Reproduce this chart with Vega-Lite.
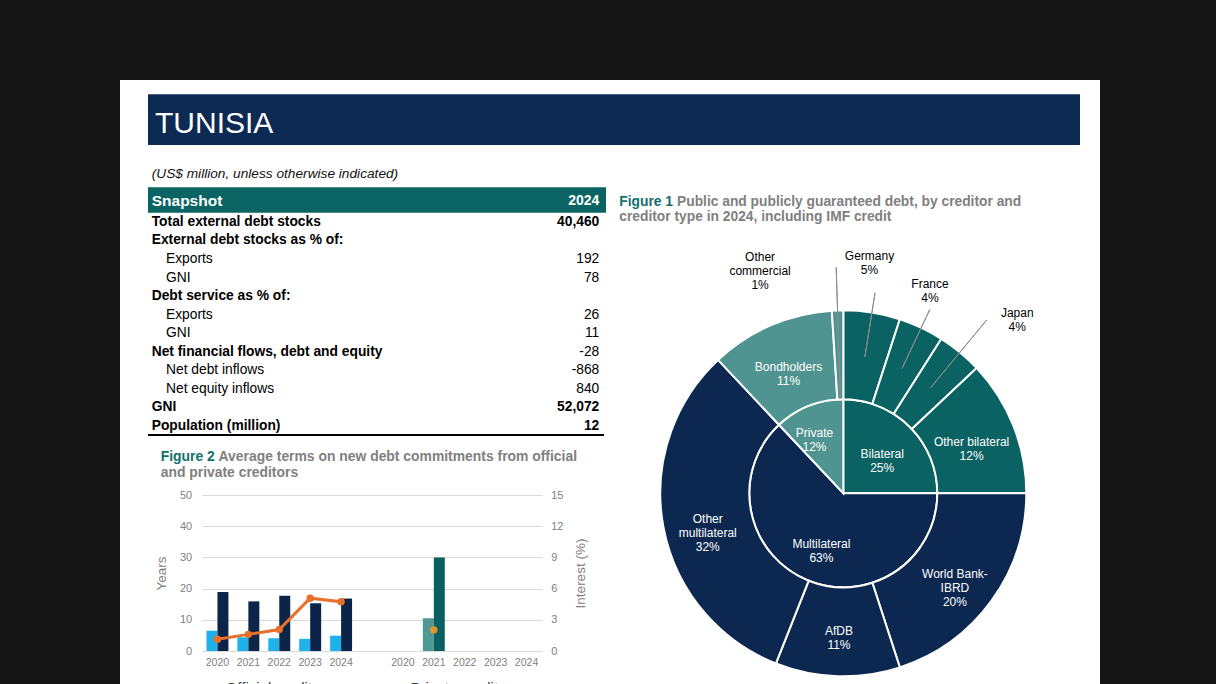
{
  "$schema": "https://vega.github.io/schema/vega-lite/v6.json",
  "width": 980,
  "height": 604,
  "autosize": {"type": "none"},
  "padding": {"left": 120, "top": 80, "right": 116, "bottom": 0},
  "background": "#151515",
  "config": {
    "view": {"fill": "#ffffff", "stroke": null},
    "font": "Liberation Sans",
    "text": {"font": "Liberation Sans"},
    "axis": {"labelFont": "Liberation Sans", "titleFont": "Liberation Sans", "labelColor": "#808080", "titleColor": "#808080", "domain": false, "ticks": false, "gridColor": "#d9d9d9", "gridWidth": 1},
    "locale": {"number": {"decimal": ".", "thousands": ",", "grouping": [3], "currency": ["$", ""], "minus": "-"}}
  },
  "datasets": {
    "table": [
      {"row": 1, "label": "Total external debt stocks", "level": 0, "value": 40460},
      {"row": 2, "label": "External debt stocks as % of:", "level": 0, "value": null},
      {"row": 3, "label": "Exports", "level": 1, "value": 192},
      {"row": 4, "label": "GNI", "level": 1, "value": 78},
      {"row": 5, "label": "Debt service as % of:", "level": 0, "value": null},
      {"row": 6, "label": "Exports", "level": 1, "value": 26},
      {"row": 7, "label": "GNI", "level": 1, "value": 11},
      {"row": 8, "label": "Net financial flows, debt and equity", "level": 0, "value": -28},
      {"row": 9, "label": "Net debt inflows", "level": 1, "value": -868},
      {"row": 10, "label": "Net equity inflows", "level": 1, "value": 840},
      {"row": 11, "label": "GNI", "level": 0, "value": 52072},
      {"row": 12, "label": "Population (million)", "level": 0, "value": 12}
    ],
    "terms": [
      {"cat": "O-2020", "creditor": "Official creditors", "term": "Grace period", "series": "Grace period (official)", "years": 6.5},
      {"cat": "O-2020", "creditor": "Official creditors", "term": "Maturity", "series": "Maturity (official)", "years": 18.9},
      {"cat": "O-2021", "creditor": "Official creditors", "term": "Grace period", "series": "Grace period (official)", "years": 4.4},
      {"cat": "O-2021", "creditor": "Official creditors", "term": "Maturity", "series": "Maturity (official)", "years": 15.9},
      {"cat": "O-2022", "creditor": "Official creditors", "term": "Grace period", "series": "Grace period (official)", "years": 4.1},
      {"cat": "O-2022", "creditor": "Official creditors", "term": "Maturity", "series": "Maturity (official)", "years": 17.7},
      {"cat": "O-2023", "creditor": "Official creditors", "term": "Grace period", "series": "Grace period (official)", "years": 3.9},
      {"cat": "O-2023", "creditor": "Official creditors", "term": "Maturity", "series": "Maturity (official)", "years": 15.3},
      {"cat": "O-2024", "creditor": "Official creditors", "term": "Grace period", "series": "Grace period (official)", "years": 4.9},
      {"cat": "O-2024", "creditor": "Official creditors", "term": "Maturity", "series": "Maturity (official)", "years": 16.8},
      {"cat": "P-2021", "creditor": "Private creditors", "term": "Grace period", "series": "Grace period (private)", "years": 10.5},
      {"cat": "P-2021", "creditor": "Private creditors", "term": "Maturity", "series": "Maturity (private)", "years": 30.0}
    ],
    "interest": [
      {"cat": "O-2020", "creditor": "Official creditors", "rate": 1.13},
      {"cat": "O-2021", "creditor": "Official creditors", "rate": 1.6},
      {"cat": "O-2022", "creditor": "Official creditors", "rate": 2.06},
      {"cat": "O-2023", "creditor": "Official creditors", "rate": 5.08},
      {"cat": "O-2024", "creditor": "Official creditors", "rate": 4.73},
      {"cat": "P-2021", "creditor": "Private creditors", "rate": 2.03}
    ],
    "creditorType": [
      {"type": "Bilateral", "share": 25, "seq": 1, "label": "Bilateral\n25%"},
      {"type": "Multilateral", "share": 63, "seq": 2, "label": "Multilateral\n63%"},
      {"type": "Private", "share": 12, "seq": 3, "label": "Private\n12%"}
    ],
    "creditor": [
      {"name": "Germany", "type": "Bilateral", "share": 5, "seq": 1, "label": "Germany\n5%"},
      {"name": "France", "type": "Bilateral", "share": 4, "seq": 2, "label": "France\n4%"},
      {"name": "Japan", "type": "Bilateral", "share": 4, "seq": 3, "label": "Japan\n4%"},
      {"name": "Other bilateral", "type": "Bilateral", "share": 12, "seq": 4, "label": "Other bilateral\n12%"},
      {"name": "World Bank-IBRD", "type": "Multilateral", "share": 20, "seq": 5, "label": "World Bank-\nIBRD\n20%"},
      {"name": "AfDB", "type": "Multilateral", "share": 11, "seq": 6, "label": "AfDB\n11%"},
      {"name": "Other multilateral", "type": "Multilateral", "share": 32, "seq": 7, "label": "Other\nmultilateral\n32%"},
      {"name": "Bondholders", "type": "Private", "share": 11, "seq": 8, "label": "Bondholders\n11%"},
      {"name": "Other commercial", "type": "Private", "share": 1, "seq": 9, "label": "Other\ncommercial\n1%"}
    ]
  },
  "layer": [
    {
      "data": {"values": [{"country": "TUNISIA"}]},
      "mark": {"type": "rect", "color": "#0c2a54"},
      "encoding": {
        "x": {"datum": 0, "type": "quantitative", "scale": {"domain": [0, 1], "range": [28, 960], "nice": false, "zero": false}, "axis": null},
        "x2": {"datum": 1},
        "y": {"datum": 0, "type": "quantitative", "scale": {"domain": [0, 1], "range": [14.3, 65], "nice": false, "zero": false}, "axis": null},
        "y2": {"datum": 1}
      }
    },
    {
      "data": {"values": [{"country": "TUNISIA"}]},
      "mark": {"type": "text", "align": "left", "baseline": "alphabetic", "fontSize": 30, "color": "#ffffff"},
      "encoding": {
        "text": {"field": "country"},
        "x": {"datum": 0, "type": "quantitative", "scale": {"domain": [0, 1], "range": [35, 36], "nice": false, "zero": false}, "axis": null},
        "y": {"datum": 0, "type": "quantitative", "scale": {"domain": [0, 1], "range": [53.3, 54.3], "nice": false, "zero": false}, "axis": null}
      }
    },
    {
      "data": {"values": [{"note": "(US$ million, unless otherwise indicated)"}]},
      "mark": {"type": "text", "align": "left", "baseline": "middle", "fontSize": 13.7, "fontStyle": "italic", "color": "#111111"},
      "encoding": {
        "text": {"field": "note"},
        "x": {"datum": 0, "type": "quantitative", "scale": {"domain": [0, 1], "range": [31.7, 32.7], "nice": false, "zero": false}, "axis": null},
        "y": {"datum": 0, "type": "quantitative", "scale": {"domain": [0, 1], "range": [94, 95], "nice": false, "zero": false}, "axis": null}
      }
    },
    {
      "data": {"values": [{"header": "Snapshot", "year": "2024"}]},
      "mark": {"type": "rect", "color": "#0a6464"},
      "encoding": {
        "x": {"datum": 0, "type": "quantitative", "scale": {"domain": [0, 1], "range": [28, 486], "nice": false, "zero": false}, "axis": null},
        "x2": {"datum": 1},
        "y": {"datum": 0, "type": "quantitative", "scale": {"domain": [0, 1], "range": [107.3, 132.7], "nice": false, "zero": false}, "axis": null},
        "y2": {"datum": 1}
      }
    },
    {
      "data": {"values": [{"header": "Snapshot", "year": "2024"}]},
      "mark": {"type": "text", "align": "left", "baseline": "middle", "fontSize": 15.5, "fontWeight": "bold", "color": "#ffffff"},
      "encoding": {
        "text": {"field": "header"},
        "x": {"datum": 0, "type": "quantitative", "scale": {"domain": [0, 1], "range": [31.7, 32.7], "nice": false, "zero": false}, "axis": null},
        "y": {"datum": 0, "type": "quantitative", "scale": {"domain": [0, 1], "range": [120.5, 121.5], "nice": false, "zero": false}, "axis": null}
      }
    },
    {
      "data": {"values": [{"header": "Snapshot", "year": "2024"}]},
      "mark": {"type": "text", "align": "right", "baseline": "middle", "fontSize": 14, "fontWeight": "bold", "color": "#ffffff"},
      "encoding": {
        "text": {"field": "year"},
        "x": {"datum": 0, "type": "quantitative", "scale": {"domain": [0, 1], "range": [479.3, 480.3], "nice": false, "zero": false}, "axis": null},
        "y": {"datum": 0, "type": "quantitative", "scale": {"domain": [0, 1], "range": [120.5, 121.5], "nice": false, "zero": false}, "axis": null}
      }
    },
    {
      "data": {"name": "table"},
      "transform": [{"filter": "datum.level === 0"}],
      "mark": {"type": "text", "align": "left", "baseline": "middle", "fontSize": 13.8, "fontWeight": "bold", "color": "#000000"},
      "encoding": {
        "text": {"field": "label"},
        "x": {"field": "level", "type": "quantitative", "scale": {"domain": [0, 1], "range": [31.7, 46], "nice": false, "zero": false}, "axis": null},
        "y": {"field": "row", "type": "ordinal", "scale": {"type": "band", "domain": [1, 2, 3, 4, 5, 6, 7, 8, 9, 10, 11, 12], "range": [132.7, 355], "paddingInner": 0, "paddingOuter": 0}, "axis": null}
      }
    },
    {
      "data": {"name": "table"},
      "transform": [{"filter": "datum.level === 1"}],
      "mark": {"type": "text", "align": "left", "baseline": "middle", "fontSize": 13.8, "color": "#000000"},
      "encoding": {
        "text": {"field": "label"},
        "x": {"field": "level", "type": "quantitative", "scale": {"domain": [0, 1], "range": [31.7, 46], "nice": false, "zero": false}, "axis": null},
        "y": {"field": "row", "type": "ordinal", "scale": {"type": "band", "domain": [1, 2, 3, 4, 5, 6, 7, 8, 9, 10, 11, 12], "range": [132.7, 355], "paddingInner": 0, "paddingOuter": 0}, "axis": null}
      }
    },
    {
      "data": {"name": "table"},
      "transform": [{"filter": "datum.value != null && (datum.row === 1 || datum.row >= 11)"}],
      "mark": {"type": "text", "align": "right", "baseline": "middle", "fontSize": 13.8, "fontWeight": "bold", "color": "#000000"},
      "encoding": {
        "text": {"field": "value", "type": "quantitative", "format": ","},
        "x": {"datum": 0, "type": "quantitative", "scale": {"domain": [0, 1], "range": [479.3, 480.3], "nice": false, "zero": false}, "axis": null},
        "y": {"field": "row", "type": "ordinal", "scale": {"type": "band", "domain": [1, 2, 3, 4, 5, 6, 7, 8, 9, 10, 11, 12], "range": [132.7, 355], "paddingInner": 0, "paddingOuter": 0}, "axis": null}
      }
    },
    {
      "data": {"name": "table"},
      "transform": [{"filter": "datum.value != null && datum.row > 1 && datum.row < 11"}],
      "mark": {"type": "text", "align": "right", "baseline": "middle", "fontSize": 13.8, "color": "#000000"},
      "encoding": {
        "text": {"field": "value", "type": "quantitative", "format": ","},
        "x": {"datum": 0, "type": "quantitative", "scale": {"domain": [0, 1], "range": [479.3, 480.3], "nice": false, "zero": false}, "axis": null},
        "y": {"field": "row", "type": "ordinal", "scale": {"type": "band", "domain": [1, 2, 3, 4, 5, 6, 7, 8, 9, 10, 11, 12], "range": [132.7, 355], "paddingInner": 0, "paddingOuter": 0}, "axis": null}
      }
    },
    {
      "data": {"name": "table"},
      "transform": [{"filter": "datum.row === 12"}],
      "mark": {"type": "rule", "color": "#000000", "strokeWidth": 2},
      "encoding": {
        "x": {"datum": 0, "type": "quantitative", "scale": {"domain": [0, 1], "range": [28, 484], "nice": false, "zero": false}, "axis": null},
        "x2": {"datum": 1},
        "y": {"field": "row", "type": "ordinal", "bandPosition": 1, "scale": {"type": "band", "domain": [1, 2, 3, 4, 5, 6, 7, 8, 9, 10, 11, 12], "range": [132.7, 355], "paddingInner": 0, "paddingOuter": 0}, "axis": null}
      }
    },
    {
      "data": {"values": [{"t": "Figure 1"}]},
      "mark": {"type": "text", "align": "left", "baseline": "alphabetic", "fontSize": 13.8, "fontWeight": "bold", "color": "#13706c"},
      "encoding": {
        "text": {"field": "t"},
        "x": {"datum": 0, "type": "quantitative", "scale": {"domain": [0, 1], "range": [499.3, 500.3], "nice": false, "zero": false}, "axis": null},
        "y": {"datum": 0, "type": "quantitative", "scale": {"domain": [0, 1], "range": [125.6, 126.6], "nice": false, "zero": false}, "axis": null}
      }
    },
    {
      "data": {"values": [{"t": "Public and publicly guaranteed debt, by creditor and"}]},
      "mark": {"type": "text", "align": "left", "baseline": "alphabetic", "fontSize": 13.8, "fontWeight": "bold", "color": "#808080"},
      "encoding": {
        "text": {"field": "t"},
        "x": {"datum": 0, "type": "quantitative", "scale": {"domain": [0, 1], "range": [557, 558], "nice": false, "zero": false}, "axis": null},
        "y": {"datum": 0, "type": "quantitative", "scale": {"domain": [0, 1], "range": [125.6, 126.6], "nice": false, "zero": false}, "axis": null}
      }
    },
    {
      "data": {"values": [{"t": "creditor type in 2024, including IMF credit"}]},
      "mark": {"type": "text", "align": "left", "baseline": "alphabetic", "fontSize": 13.8, "fontWeight": "bold", "color": "#808080"},
      "encoding": {
        "text": {"field": "t"},
        "x": {"datum": 0, "type": "quantitative", "scale": {"domain": [0, 1], "range": [499.3, 500.3], "nice": false, "zero": false}, "axis": null},
        "y": {"datum": 0, "type": "quantitative", "scale": {"domain": [0, 1], "range": [141.1, 142.1], "nice": false, "zero": false}, "axis": null}
      }
    },
    {
      "data": {"values": [{"t": "Figure 2"}]},
      "mark": {"type": "text", "align": "left", "baseline": "alphabetic", "fontSize": 13.9, "fontWeight": "bold", "color": "#13706c"},
      "encoding": {
        "text": {"field": "t"},
        "x": {"datum": 0, "type": "quantitative", "scale": {"domain": [0, 1], "range": [40.7, 41.7], "nice": false, "zero": false}, "axis": null},
        "y": {"datum": 0, "type": "quantitative", "scale": {"domain": [0, 1], "range": [380.6, 381.6], "nice": false, "zero": false}, "axis": null}
      }
    },
    {
      "data": {"values": [{"t": "Average terms on new debt commitments from official"}]},
      "mark": {"type": "text", "align": "left", "baseline": "alphabetic", "fontSize": 13.9, "fontWeight": "bold", "color": "#808080"},
      "encoding": {
        "text": {"field": "t"},
        "x": {"datum": 0, "type": "quantitative", "scale": {"domain": [0, 1], "range": [98.6, 99.6], "nice": false, "zero": false}, "axis": null},
        "y": {"datum": 0, "type": "quantitative", "scale": {"domain": [0, 1], "range": [380.6, 381.6], "nice": false, "zero": false}, "axis": null}
      }
    },
    {
      "data": {"values": [{"t": "and private creditors"}]},
      "mark": {"type": "text", "align": "left", "baseline": "alphabetic", "fontSize": 13.9, "fontWeight": "bold", "color": "#808080"},
      "encoding": {
        "text": {"field": "t"},
        "x": {"datum": 0, "type": "quantitative", "scale": {"domain": [0, 1], "range": [40.7, 41.7], "nice": false, "zero": false}, "axis": null},
        "y": {"datum": 0, "type": "quantitative", "scale": {"domain": [0, 1], "range": [396.6, 397.6], "nice": false, "zero": false}, "axis": null}
      }
    },
    {
      "data": {"name": "terms"},
      "mark": {"type": "bar"},
      "encoding": {
        "x": {"field": "cat", "type": "nominal", "scale": {"type": "band", "domain": ["O-2020", "O-2021", "O-2022", "O-2023", "O-2024", "gap", "P-2020", "P-2021", "P-2022", "P-2023", "P-2024"], "range": [82, 422], "paddingInner": 0.29, "paddingOuter": 0.145},
          "axis": {"orient": "bottom", "offset": -33, "labelExpr": "datum.value == 'gap' ? '' : slice(datum.value, 2)", "labelFontSize": 10.5, "labelPadding": 6, "labelAngle": 0, "title": null, "grid": false}},
        "xOffset": {"field": "term", "type": "nominal", "scale": {"domain": ["Grace period", "Maturity"], "paddingInner": 0, "paddingOuter": 0}},
        "y": {"field": "years", "type": "quantitative", "scale": {"domain": [0, 50], "range": [571, 415], "nice": false, "zero": false},
          "axis": {"orient": "left", "offset": -82, "values": [0, 10, 20, 30, 40, 50], "grid": true, "labelFontSize": 11, "labelPadding": 10.3, "title": "Years", "titleFontSize": 13.5, "titleFontWeight": "normal", "titlePadding": 11}},
        "color": {"field": "series", "type": "nominal", "scale": {"domain": ["Grace period (official)", "Maturity (official)", "Grace period (private)", "Maturity (private)"], "range": ["#1fb2ea", "#0b2448", "#4f9894", "#0a6060"]}, "legend": null}
      }
    },
    {
      "data": {"name": "interest"},
      "mark": {"type": "line", "strokeWidth": 3, "point": {"filled": true, "size": 55}},
      "encoding": {
        "x": {"field": "cat", "type": "nominal", "bandPosition": 0.5, "scale": {"type": "band", "domain": ["O-2020", "O-2021", "O-2022", "O-2023", "O-2024", "gap", "P-2020", "P-2021", "P-2022", "P-2023", "P-2024"], "range": [82, 422], "paddingInner": 0.29, "paddingOuter": 0.145}, "axis": null},
        "y": {"field": "rate", "type": "quantitative", "scale": {"domain": [0, 15], "range": [571, 415], "nice": false, "zero": false},
          "axis": {"orient": "right", "offset": -558, "values": [0, 3, 6, 9, 12, 15], "grid": false, "labelFontSize": 11, "labelPadding": 8.7, "title": "Interest (%)", "titleFontSize": 13.5, "titleFontWeight": "normal", "titleAngle": 270, "titleBaseline": "top", "titlePadding": 11}},
        "color": {"field": "creditor", "type": "nominal", "scale": {"domain": ["Official creditors", "Private creditors"], "range": ["#e8702a", "#e0962b"]}, "legend": null}
      }
    },
    {
      "data": {"name": "terms"},
      "mark": {"type": "point", "opacity": 0},
      "encoding": {
        "x": {"field": "creditor", "type": "nominal", "scale": {"type": "band", "domain": ["Official creditors", "Private creditors"], "range": [82, 422], "paddingInner": 0.1667, "paddingOuter": 0},
          "axis": {"orient": "bottom", "offset": -33, "labelFontSize": 15, "labelColor": "#404040", "labelPadding": 29, "labelAngle": 0, "title": null, "grid": false}}
      }
    },
    {
      "data": {"name": "creditorType"},
      "mark": {"type": "arc", "innerRadius": 0, "outerRadius": 94, "stroke": "#ffffff", "strokeWidth": 2},
      "encoding": {
        "theta": {"field": "share", "type": "quantitative", "stack": true},
        "order": {"field": "seq", "type": "quantitative"},
        "x": {"datum": 0, "type": "quantitative", "scale": {"domain": [0, 1], "range": [723.3, 724.3], "nice": false, "zero": false}, "axis": null},
        "y": {"datum": 0, "type": "quantitative", "scale": {"domain": [0, 1], "range": [413.3, 414.3], "nice": false, "zero": false}, "axis": null},
        "color": {"field": "type", "type": "nominal", "scale": {"domain": ["Bilateral", "Multilateral", "Private"], "range": ["#0b6262", "#0c2850", "#4f9490"]}, "legend": null}
      }
    },
    {
      "data": {"name": "creditor"},
      "mark": {"type": "arc", "innerRadius": 94, "outerRadius": 183, "stroke": "#ffffff", "strokeWidth": 2},
      "encoding": {
        "theta": {"field": "share", "type": "quantitative", "stack": true},
        "order": {"field": "seq", "type": "quantitative"},
        "x": {"datum": 0, "type": "quantitative", "scale": {"domain": [0, 1], "range": [723.3, 724.3], "nice": false, "zero": false}, "axis": null},
        "y": {"datum": 0, "type": "quantitative", "scale": {"domain": [0, 1], "range": [413.3, 414.3], "nice": false, "zero": false}, "axis": null},
        "color": {"field": "type", "type": "nominal", "scale": {"domain": ["Bilateral", "Multilateral", "Private"], "range": ["#0b6262", "#0c2850", "#4f9490"]}, "legend": null}
      }
    },
    {
      "data": {"name": "creditor"},
      "mark": {"type": "arc", "innerRadius": 138, "outerRadius": 203, "padAngle": 3, "fillOpacity": 0, "stroke": "#8c8c8c", "strokeWidth": 1},
      "encoding": {
        "theta": {"field": "share", "type": "quantitative", "stack": true},
        "order": {"field": "seq", "type": "quantitative"},
        "x": {"datum": 0, "type": "quantitative", "scale": {"domain": [0, 1], "range": [723.3, 724.3], "nice": false, "zero": false}, "axis": null},
        "y": {"datum": 0, "type": "quantitative", "scale": {"domain": [0, 1], "range": [413.3, 414.3], "nice": false, "zero": false}, "axis": null},
        "strokeOpacity": {"condition": {"test": "datum.name === 'Germany' || datum.name === 'France'", "value": 1}, "value": 0}
      }
    },
    {
      "data": {"name": "creditor"},
      "mark": {"type": "arc", "innerRadius": 137, "outerRadius": 225, "padAngle": 3, "fillOpacity": 0, "stroke": "#8c8c8c", "strokeWidth": 1},
      "encoding": {
        "theta": {"field": "share", "type": "quantitative", "stack": true},
        "order": {"field": "seq", "type": "quantitative"},
        "x": {"datum": 0, "type": "quantitative", "scale": {"domain": [0, 1], "range": [723.3, 724.3], "nice": false, "zero": false}, "axis": null},
        "y": {"datum": 0, "type": "quantitative", "scale": {"domain": [0, 1], "range": [413.3, 414.3], "nice": false, "zero": false}, "axis": null},
        "strokeOpacity": {"condition": {"test": "datum.name === 'Japan'", "value": 1}, "value": 0}
      }
    },
    {
      "data": {"name": "creditor"},
      "mark": {"type": "arc", "innerRadius": 95, "outerRadius": 226, "padAngle": 3, "fillOpacity": 0, "stroke": "#8c8c8c", "strokeWidth": 1},
      "encoding": {
        "theta": {"field": "share", "type": "quantitative", "stack": true},
        "order": {"field": "seq", "type": "quantitative"},
        "x": {"datum": 0, "type": "quantitative", "scale": {"domain": [0, 1], "range": [723.3, 724.3], "nice": false, "zero": false}, "axis": null},
        "y": {"datum": 0, "type": "quantitative", "scale": {"domain": [0, 1], "range": [413.3, 414.3], "nice": false, "zero": false}, "axis": null},
        "strokeOpacity": {"condition": {"test": "datum.name === 'Other commercial'", "value": 1}, "value": 0}
      }
    },
    {
      "data": {"name": "creditorType"},
      "mark": {"type": "text", "radius": 55, "fontSize": 12, "color": "#ffffff", "lineBreak": "\n", "lineHeight": 14, "align": "center", "baseline": "middle"},
      "encoding": {
        "theta": {"field": "share", "type": "quantitative", "stack": true},
        "order": {"field": "seq", "type": "quantitative"},
        "x": {"datum": 0, "type": "quantitative", "scale": {"domain": [0, 1], "range": [723.3, 724.3], "nice": false, "zero": false}, "axis": null},
        "y": {"datum": 0, "type": "quantitative", "scale": {"domain": [0, 1], "range": [413.3, 414.3], "nice": false, "zero": false}, "axis": null},
        "text": {"condition": {"test": "datum.type !== 'Private'", "field": "label"}, "value": ""}
      }
    },
    {
      "data": {"name": "creditorType"},
      "mark": {"type": "text", "radius": 62, "dx": -6, "dy": -3, "fontSize": 12, "color": "#ffffff", "lineBreak": "\n", "lineHeight": 14, "align": "center", "baseline": "middle"},
      "encoding": {
        "theta": {"field": "share", "type": "quantitative", "stack": true},
        "order": {"field": "seq", "type": "quantitative"},
        "x": {"datum": 0, "type": "quantitative", "scale": {"domain": [0, 1], "range": [723.3, 724.3], "nice": false, "zero": false}, "axis": null},
        "y": {"datum": 0, "type": "quantitative", "scale": {"domain": [0, 1], "range": [413.3, 414.3], "nice": false, "zero": false}, "axis": null},
        "text": {"condition": {"test": "datum.type === 'Private'", "field": "label"}, "value": ""}
      }
    },
    {
      "data": {"name": "creditor"},
      "mark": {"type": "text", "radius": 138, "fontSize": 12, "color": "#ffffff", "lineBreak": "\n", "lineHeight": 14, "align": "center", "baseline": "middle"},
      "encoding": {
        "theta": {"field": "share", "type": "quantitative", "stack": true},
        "order": {"field": "seq", "type": "quantitative"},
        "x": {"datum": 0, "type": "quantitative", "scale": {"domain": [0, 1], "range": [723.3, 724.3], "nice": false, "zero": false}, "axis": null},
        "y": {"datum": 0, "type": "quantitative", "scale": {"domain": [0, 1], "range": [413.3, 414.3], "nice": false, "zero": false}, "axis": null},
        "text": {"condition": {"test": "indexof(['Germany', 'France', 'Japan', 'Other commercial'], datum.name) < 0", "field": "label"}, "value": ""}
      }
    },
    {
      "data": {"name": "creditor"},
      "mark": {"type": "text", "radius": 238, "dx": -11, "dy": -2, "fontSize": 12, "color": "#000000", "lineBreak": "\n", "lineHeight": 14, "align": "center", "baseline": "middle"},
      "encoding": {
        "theta": {"field": "share", "type": "quantitative", "stack": true},
        "order": {"field": "seq", "type": "quantitative"},
        "x": {"datum": 0, "type": "quantitative", "scale": {"domain": [0, 1], "range": [723.3, 724.3], "nice": false, "zero": false}, "axis": null},
        "y": {"datum": 0, "type": "quantitative", "scale": {"domain": [0, 1], "range": [413.3, 414.3], "nice": false, "zero": false}, "axis": null},
        "text": {"condition": {"test": "datum.name === 'Germany'", "field": "label"}, "value": ""}
      }
    },
    {
      "data": {"name": "creditor"},
      "mark": {"type": "text", "radius": 226, "dx": -9.5, "dy": -4.6, "fontSize": 12, "color": "#000000", "lineBreak": "\n", "lineHeight": 14, "align": "center", "baseline": "middle"},
      "encoding": {
        "theta": {"field": "share", "type": "quantitative", "stack": true},
        "order": {"field": "seq", "type": "quantitative"},
        "x": {"datum": 0, "type": "quantitative", "scale": {"domain": [0, 1], "range": [723.3, 724.3], "nice": false, "zero": false}, "axis": null},
        "y": {"datum": 0, "type": "quantitative", "scale": {"domain": [0, 1], "range": [413.3, 414.3], "nice": false, "zero": false}, "axis": null},
        "text": {"condition": {"test": "datum.name === 'France'", "field": "label"}, "value": ""}
      }
    },
    {
      "data": {"name": "creditor"},
      "mark": {"type": "text", "radius": 251, "dx": 14, "dy": 12.6, "fontSize": 12, "color": "#000000", "lineBreak": "\n", "lineHeight": 14, "align": "center", "baseline": "middle"},
      "encoding": {
        "theta": {"field": "share", "type": "quantitative", "stack": true},
        "order": {"field": "seq", "type": "quantitative"},
        "x": {"datum": 0, "type": "quantitative", "scale": {"domain": [0, 1], "range": [723.3, 724.3], "nice": false, "zero": false}, "axis": null},
        "y": {"datum": 0, "type": "quantitative", "scale": {"domain": [0, 1], "range": [413.3, 414.3], "nice": false, "zero": false}, "axis": null},
        "text": {"condition": {"test": "datum.name === 'Japan'", "field": "label"}, "value": ""}
      }
    },
    {
      "data": {"name": "creditor"},
      "mark": {"type": "text", "radius": 250, "dx": -75.4, "dy": 13.1, "fontSize": 12, "color": "#000000", "lineBreak": "\n", "lineHeight": 14, "align": "center", "baseline": "middle"},
      "encoding": {
        "theta": {"field": "share", "type": "quantitative", "stack": true},
        "order": {"field": "seq", "type": "quantitative"},
        "x": {"datum": 0, "type": "quantitative", "scale": {"domain": [0, 1], "range": [723.3, 724.3], "nice": false, "zero": false}, "axis": null},
        "y": {"datum": 0, "type": "quantitative", "scale": {"domain": [0, 1], "range": [413.3, 414.3], "nice": false, "zero": false}, "axis": null},
        "text": {"condition": {"test": "datum.name === 'Other commercial'", "field": "label"}, "value": ""}
      }
    }
  ],
  "resolve": {
    "scale": {"x": "independent", "y": "independent", "color": "independent", "theta": "independent", "xOffset": "independent", "strokeOpacity": "independent"},
    "axis": {"x": "independent", "y": "independent"},
    "legend": {"color": "independent"}
  }
}
